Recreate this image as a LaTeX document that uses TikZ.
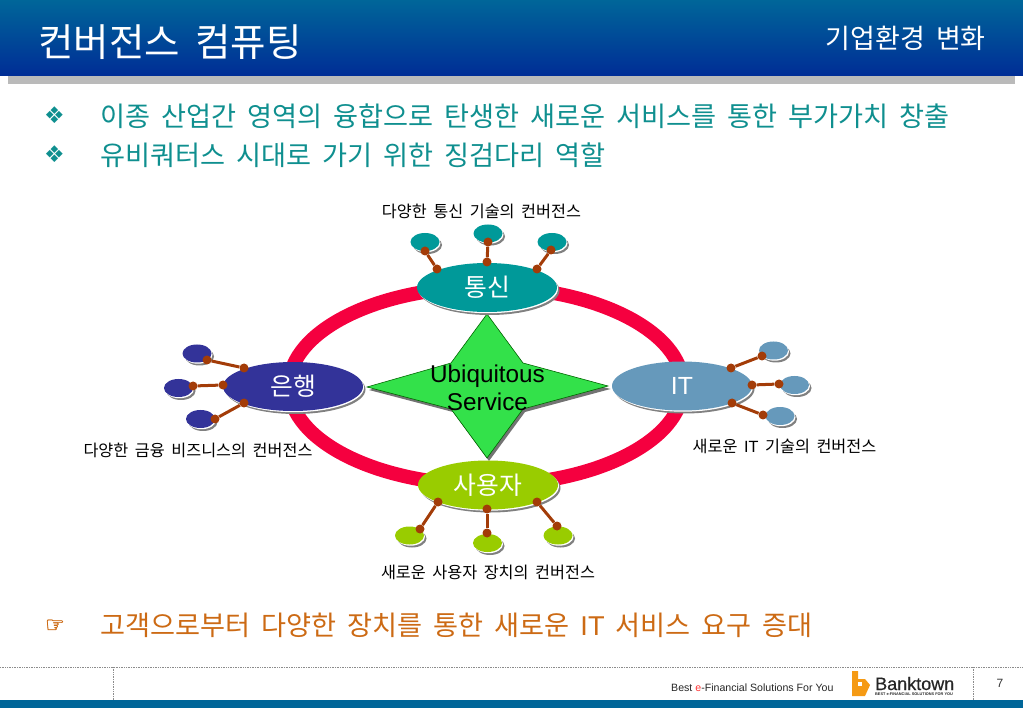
\documentclass[tikz,border=0pt]{standalone}
\usepackage{fontspec}
\setmainfont[WordSpace=1.8]{Noto Sans CJK KR}
\newfontfamily\latinf{Liberation Sans}
\newfontfamily\latinb[FakeBold=0.6]{Liberation Sans}
\newfontfamily\symf{DejaVu Sans}
\newfontfamily\handf[FakeBold=1.5]{DejaVu Sans}
\usetikzlibrary{shapes.geometric,shadows}
\definecolor{hdtop}{HTML}{006699}
\definecolor{hdbot}{HTML}{002D96}
\definecolor{teal1}{HTML}{0F8F8F}
\definecolor{orange1}{HTML}{CC6A14}
\definecolor{ringc}{HTML}{F5003F}
\definecolor{tongc}{HTML}{009999}
\definecolor{bankc}{HTML}{333399}
\definecolor{itc}{HTML}{6699BB}
\definecolor{userc}{HTML}{99CC00}
\definecolor{linkc}{HTML}{A33C08}
\definecolor{starc}{HTML}{33E14A}
\definecolor{logoc}{HTML}{F59A14}
\newcommand{\fs}[1]{\fontsize{#1pt}{#1pt}\selectfont}
\newcommand{\lowr}[1]{\raisebox{-1.5pt}{#1}}
\tikzset{
  x=1pt,y=-1pt,
  blob/.style={ellipse,inner sep=0pt,fill=#1,
    general shadow={shadow xshift=2.5pt,shadow yshift=-3pt,fill=black!50},
    general shadow={shadow xshift=1pt,shadow yshift=-1.2pt,fill=white}},
  hub/.style={blob=#1,minimum width=140pt,minimum height=49pt,text=white,font=\fs{24.8}},
  sat/.style={blob=#1,minimum width=29pt,minimum height=18pt},
  dot/.style={circle,fill=linkc,inner sep=0pt,minimum size=9pt},
  link/.style={draw=linkc,line width=3pt},
  capt/.style={font=\fs{16.25},text=black,inner sep=0pt},
  head/.style={font=\fs{27.2},text=teal1,inner sep=0pt,anchor=west},
  bul/.style={font=\symf\fs{23},text=teal1,inner sep=0pt},
  dotl/.style={draw=black!45,line width=.7pt,densely dotted},
}
\begin{document}
\begin{tikzpicture}
\useasboundingbox (0,0) rectangle (1023,708);
% header
\shade[top color=hdtop,bottom color=hdbot] (0,0) rectangle (1023,76);
\fill[black!27] (8,76) rectangle (1015,84);
\node[font=\fs{38.5},text=white,inner sep=0pt,anchor=west] (title) at (38,42) {컨버전스 컴퓨팅};
\node[font=\fs{27},text=white,inner sep=0pt,anchor=east] (section) at (986,38) {기업환경 변화};
% bullets
\node[bul] (b1) at (54.5,115) {❖};
\node[head] (t1) at (100,116) {이종 산업간 영역의 융합으로 탄생한 새로운 서비스를 통한 부가가치 창출};
\node[bul] (b2) at (54.5,154) {❖};
\node[head] (t2) at (100,155) {유비쿼터스 시대로 가기 위한 징검다리 역할};
% ring
\node[ellipse,draw=ringc,line width=14pt,outer sep=0pt,minimum width=394pt,minimum height=198pt,inner sep=0pt] (ring) at (486,386) {};
% star
\path[fill=black!55] (489,317) -- (525,366) -- (610.5,389) -- (525,412) -- (489,461) -- (453,412) -- (369,390) -- (453,366) -- cycle;
\path[fill=starc,draw=green!40!black,line width=.6pt] (487,314) -- (523,363) -- (608,386) -- (523,409) -- (487,458) -- (451,409) -- (367,387) -- (451,363) -- cycle;
\node[font=\latinf\fs{24.3},align=center,inner sep=0pt,text=black] (svc) at (487.5,388) {Ubiquitous\\[4pt]Service};
% hubs
\node[hub=tongc] (tong) at (487,287.5) {\lowr{통신}};
\node[hub=bankc] (bank) at (293,386.5) {\lowr{은행}};
\node[hub=itc] (it) at (682,386) {\lowr{\latinf IT}};
\node[hub=userc] (user) at (488,485) {\lowr{사용자}};
% satellites
\node[sat=tongc] (t-a) at (425,242) {};
\node[sat=tongc] (t-b) at (488,233.5) {};
\node[sat=tongc] (t-c) at (552,242) {};
\node[sat=bankc] (k-a) at (197,353.5) {};
\node[sat=bankc] (k-b) at (178.5,388) {};
\node[sat=bankc] (k-c) at (200.5,419) {};
\node[sat=itc] (i-a) at (773.5,350.5) {};
\node[sat=itc] (i-b) at (794.5,385) {};
\node[sat=itc] (i-c) at (780,416) {};
\node[sat=userc] (u-a) at (409.5,535.5) {};
\node[sat=userc] (u-b) at (487.5,543) {};
\node[sat=userc] (u-c) at (558,535.5) {};
% connector dots
\foreach \n/\ax/\ay/\bx/\by in {
  ta/425/251/437/269, tb/488/242/487/262, tc/551/250/537/269,
  ka/207/360/244/368, kb/193/386/223/385, kc/215/419/244/403,
  ia/762/356/731/368, ib/779/384/752/385, ic/763/415/732/403,
  ua/420/529/438/502, ub/487/533/487/509, uc/557/526/537/502}{
  \node[dot] (\n1) at (\ax,\ay) {};
  \node[dot] (\n2) at (\bx,\by) {};
  \draw[link] (\n1) -- (\n2);
}
% captions
\node[capt] (c1) at (481.5,211.5) {다양한 통신 기술의 컨버전스};
\node[capt] (c2) at (198,450.5) {다양한 금융 비즈니스의 컨버전스};
\node[capt] (c3) at (784.5,446.5) {새로운 {\latinf IT} 기술의 컨버전스};
\node[capt] (c4) at (488,572.5) {새로운 사용자 장치의 컨버전스};
% bottom line
\node[font=\handf\fs{22},text=orange1,inner sep=0pt] (hand) at (55,626) {☞};
\node[head,text=orange1] (t3) at (100,625) {고객으로부터 다양한 장치를 통한 새로운 {\latinf IT} 서비스 요구 증대};
% footer
\draw[dotl] (0,667) -- (1023,667);
\draw[dotl] (113,667) -- (113,700);
\draw[dotl] (973,667) -- (973,700);
\fill[hdtop] (0,700) rectangle (1023,708);
\node[font=\latinf\fs{10.6},inner sep=0pt,anchor=west,text=black!85] (tag) at (671,688) {Best \textcolor{red!80}{e}-Financial Solutions For You};
\node[font=\latinf\fs{12},inner sep=0pt,text=black!80] (pg) at (1000,683) {7};
% logo
\fill[logoc] (852,671) -- (858,671) -- (858,679) -- (865,679) -- (870,685) -- (865,696) -- (852,696) -- cycle;
\fill[white] (858,681.5) rectangle (861.5,686);
\node[font=\latinb\fs{18},inner sep=0pt,anchor=base west,text=black!85] (logo) at (875,690) {Banktown};
\node[font=\latinf\bfseries\fs{3.85},inner sep=0pt,anchor=base west,text=black!85] (logot) at (875,695) {BEST e-FINANCIAL SOLUTIONS FOR YOU};
\end{tikzpicture}
\end{document}
